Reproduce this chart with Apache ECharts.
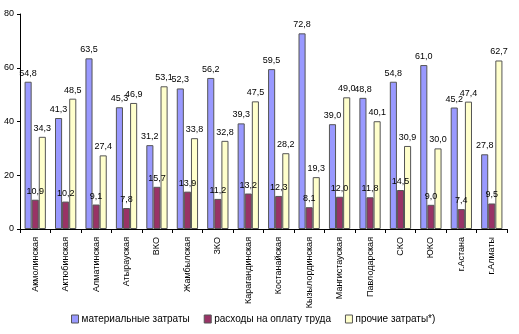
<!DOCTYPE html>
<html>
<head>
<meta charset="utf-8">
<script src="https://cdn.jsdelivr.net/npm/echarts@6/dist/echarts.min.js"></script>
<style>
html,body{margin:0;padding:0;background:#fff;}
#chart{width:519px;height:334px;}
</style>
</head>
<body>
<div id="chart"></div>
<script>
// Cost structure by region, %
const categories = ['Акмолинская','Актюбинская','Алматинская','Атырауская','ВКО','Жамбылская','ЗКО','Карагандинская','Костанайская','Кызылординская','Мангистауская','Павлодарская','СКО','ЮКО','г.Астана','г.Алматы'];
const materialCosts = [54.8, 41.3, 63.5, 45.3, 31.2, 52.3, 56.2, 39.3, 59.5, 72.8, 39.0, 48.8, 54.8, 61.0, 45.2, 27.8];
const laborCosts = [10.9, 10.2, 9.1, 7.8, 15.7, 13.9, 11.2, 13.2, 12.3, 8.1, 12.0, 11.8, 14.5, 9.0, 7.4, 9.5];
const otherCosts = [34.3, 48.5, 27.4, 46.9, 53.1, 33.8, 32.8, 47.5, 28.2, 19.3, 49.0, 40.1, 30.9, 30.0, 47.4, 62.7];
const yTicks = [0, 20, 40, 60, 80];

const fmt = v => v.toFixed(1).replace('.', ',');
const FONT = 'Liberation Sans, Arial, sans-serif';

function bar(name, data, color) {
  return {
    name, type: 'bar', data,
    barGap: '0%', barCategoryGap: '30%',
    itemStyle: { color, borderColor: '#555', borderWidth: 1 },
    label: {
      show: true, position: 'top', distance: 4,
      formatter: p => fmt(p.value),
      fontFamily: FONT, fontSize: 9, color: '#000'
    }
  };
}

const chart = echarts.init(document.getElementById('chart'), null, { renderer: 'canvas' });
chart.setOption({
  animation: false,
  backgroundColor: '#fff',
  grid: { left: 20, right: 12, top: 14, bottom: 105, containLabel: false },
  legend: {
    top: 309, left: 66, itemWidth: 7, itemHeight: 8, itemGap: 14,
    icon: 'rect',
    itemStyle: { borderColor: '#555', borderWidth: 1 },
    textStyle: { fontFamily: FONT, fontSize: 10, color: '#000', padding: [0, 0, 0, -2] },
    data: ['материальные затраты', 'расходы на оплату труда', 'прочие затраты*)']
  },
  xAxis: {
    type: 'category', data: categories,
    axisLine: { lineStyle: { color: '#000' } },
    axisTick: { show: true, length: 4, lineStyle: { color: '#000' } },
    axisLabel: { rotate: 90, interval: 0, fontFamily: FONT, fontSize: 9, color: '#000', margin: 8 }
  },
  yAxis: {
    type: 'value', min: 0, max: 80, interval: 20,
    splitLine: { show: false },
    axisLine: { show: true, lineStyle: { color: '#000' } },
    axisTick: { show: true, length: 3, lineStyle: { color: '#000' } },
    axisLabel: { fontFamily: FONT, fontSize: 9, color: '#000', margin: 6,
      formatter: v => yTicks.includes(v) ? String(v) : '' }
  },
  series: [
    bar('материальные затраты', materialCosts, '#9999ff'),
    bar('расходы на оплату труда', laborCosts, '#993366'),
    bar('прочие затраты*)', otherCosts, '#ffffcc')
  ]
});
</script>
</body>
</html>
